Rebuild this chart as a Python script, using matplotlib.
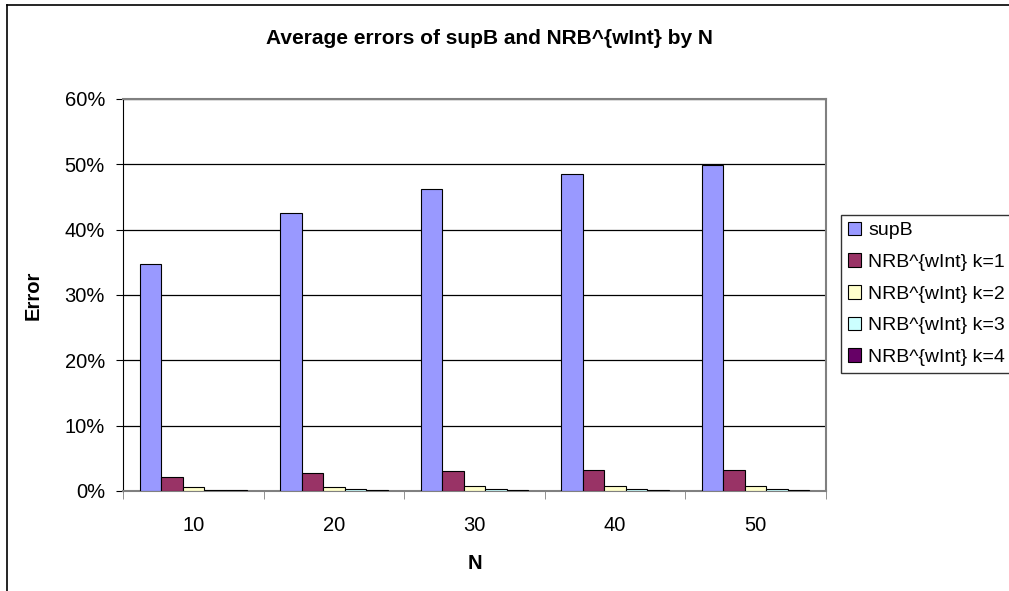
import numpy as np
import matplotlib.pyplot as plt

plt.rcParams['font.family'] = ['Liberation Sans', 'DejaVu Sans']

n_values = ['10', '20', '30', '40', '50']
supB = [34.7, 42.6, 46.3, 48.5, 49.9]
nrb_k1 = [2.1, 2.8, 3.0, 3.2, 3.2]
nrb_k2 = [0.6, 0.6, 0.75, 0.75, 0.75]
nrb_k3 = [0.15, 0.35, 0.35, 0.35, 0.35]
nrb_k4 = [0.1, 0.15, 0.15, 0.15, 0.15]

series = [supB, nrb_k1, nrb_k2, nrb_k3, nrb_k4]
labels = ['supB', 'NRB^{wInt} k=1', 'NRB^{wInt} k=2', 'NRB^{wInt} k=3', 'NRB^{wInt} k=4']
colors = ['#9999FF', '#993366', '#FFFFCC', '#CCFFFF', '#660066']

fig = plt.figure(figsize=(10.09, 5.91), dpi=100)
ax = fig.add_axes([123 / 1009, 1 - 491 / 591, (826 - 123) / 1009, (491 - 99) / 591])

x = np.arange(len(n_values))
w = 0.153
for i, (vals, lab, col) in enumerate(zip(series, labels, colors)):
    ax.bar(x + (i - 2) * w, vals, w, color=col, edgecolor='black', linewidth=0.8,
           label=lab, zorder=3)

ax.set_xlim(-0.5, len(n_values) - 0.5)
ax.set_ylim(0, 60)
ax.set_yticks(np.arange(0, 61, 10))
ax.set_yticklabels([f'{v}%' for v in range(0, 61, 10)], fontsize=14.5)
ax.set_xticks(x)
ax.set_xticklabels(n_values, fontsize=14.5)
ax.set_xticks(np.arange(-0.5, len(n_values)), minor=True)
ax.tick_params(axis='x', which='major', length=0, pad=18)
ax.tick_params(axis='x', which='minor', length=6, direction='out', color='#808080')
ax.tick_params(axis='y', length=5, direction='out', pad=8)

ax.yaxis.grid(True, color='black', linewidth=0.9, zorder=0)
ax.set_axisbelow(True)
for side in ['top', 'right', 'bottom']:
    ax.spines[side].set_color('#808080')
    ax.spines[side].set_linewidth(1.5)
ax.spines['left'].set_color('black')

ax.set_xlabel('N', fontsize=14.5, fontweight='bold', labelpad=14)
ax.set_ylabel('Error', fontsize=14.5, fontweight='bold', labelpad=16)

fig.text(489 / 1009, 1 - 38 / 591, 'Average errors of supB and NRB^{wInt} by N',
         ha='center', va='center', fontsize=15, fontweight='bold')

leg = fig.legend(loc='upper left', bbox_to_anchor=(841 / 1009, 1 - 215 / 591),
                 fontsize=14, frameon=True, fancybox=False, edgecolor='black',
                 handlelength=0.7, handleheight=0.7, handletextpad=0.35,
                 labelspacing=0.72, borderpad=0.35, borderaxespad=0)
leg.get_frame().set_linewidth(1.0)

# chart area border (left and top edges)
fig.add_artist(plt.Line2D([7 / 1009, 7 / 1009], [0, 1 - 5 / 591], color='black', lw=1.2))
fig.add_artist(plt.Line2D([7 / 1009, 1], [1 - 5 / 591, 1 - 5 / 591], color='black', lw=1.2))

fig.savefig('out.png', dpi=100)
